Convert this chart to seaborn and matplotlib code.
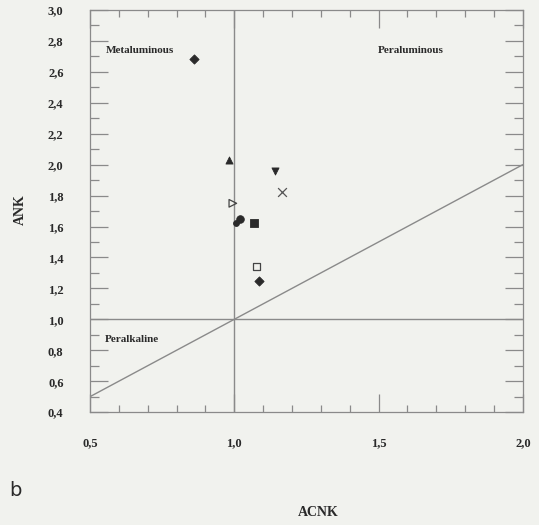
import matplotlib

matplotlib.use("Agg")

import matplotlib.pyplot as plt
import pandas as pd
import seaborn as sns
from matplotlib.ticker import MultipleLocator, FixedLocator

# sample points (ACNK, ANK)
samples = ["s1", "s2", "s3", "s4", "s5", "s6", "s7", "s8", "s9", "s10"]
acnk = [0.86, 0.98, 1.14, 1.165, 0.995, 1.02, 1.007, 1.068, 1.078, 1.085]
ank = [2.68, 2.03, 1.96, 1.82, 1.75, 1.65, 1.62, 1.62, 1.34, 1.25]
markers = ["D", "^", "v", "x", ">", "o", "o", "s", "s", "D"]
filled = [True, True, True, True, False, True, True, True, False, True]

x_ticks = [0.5, 1.0, 1.5, 2.0]
x_labels = ["0,5", "1,0", "1,5", "2,0"]
y_ticks = [0.4, 0.6, 0.8, 1.0, 1.2, 1.4, 1.6, 1.8, 2.0, 2.2, 2.4, 2.6, 2.8, 3.0]
y_labels = ["0,4", "0,6", "0,8", "1,0", "1,2", "1,4", "1,6", "1,8", "2,0",
            "2,2", "2,4", "2,6", "2,8", "3,0"]

df = pd.DataFrame({"sample": samples, "ACNK": acnk, "ANK": ank,
                   "marker": markers, "filled": filled})

sns.set_style("white")
plt.rcParams["font.family"] = ["Liberation Serif", "DejaVu Serif"]

bg = "#f1f2ee"
ink = "#2a2a2a"
line_c = "#8a8a8a"

fig = plt.figure(figsize=(5.39, 5.25), dpi=100, facecolor=bg)
ax = fig.add_axes([0.167, 0.215, 0.803, 0.766])
ax.set_facecolor(bg)

# reference lines
ax.axvline(1.0, color=line_c, lw=1.0, zorder=1)
ax.axhline(1.0, color=line_c, lw=1.0, zorder=1)
ax.plot([0.5, 2.0], [0.5, 2.0], color=line_c, lw=1.0, zorder=1)

size_map = {"D": 22, "^": 26, "v": 26, "x": 40, ">": 30, "o": 30, "s": 28}
for _, row in df.iterrows():
    sub = df[df["sample"] == row["sample"]]
    m = row["marker"]
    s = size_map[m]
    if row["sample"] == "s7":
        s = 18
    if m == "x":
        sns.scatterplot(data=sub, x="ACNK", y="ANK", marker=m, s=s,
                        color="#555555", linewidth=0.9, ax=ax, zorder=3)
    elif row["filled"]:
        sns.scatterplot(data=sub, x="ACNK", y="ANK", marker=m, s=s,
                        color=ink, edgecolor=ink, linewidth=0.6, ax=ax, zorder=3)
    else:
        sns.scatterplot(data=sub, x="ACNK", y="ANK", marker=m, s=s,
                        facecolor="none", edgecolor="#444444", linewidth=0.9,
                        ax=ax, zorder=3)

ax.set_xlim(0.5, 2.0)
ax.set_ylim(0.4, 3.0)

ax.xaxis.set_major_locator(FixedLocator(x_ticks))
ax.yaxis.set_major_locator(FixedLocator(y_ticks))
ax.xaxis.set_minor_locator(MultipleLocator(0.1))
ax.yaxis.set_minor_locator(MultipleLocator(0.1))
ax.set_xticklabels(x_labels, fontweight="bold", fontsize=9, color=ink)
ax.set_yticklabels(y_labels, fontweight="bold", fontsize=9, color=ink)

ax.tick_params(axis="both", which="both", direction="in", top=True,
               right=True, left=True, bottom=True, color=line_c, width=0.9)
ax.tick_params(axis="y", which="major", length=13, pad=19)
ax.tick_params(axis="y", which="minor", length=6.5)
ax.tick_params(axis="x", which="major", length=13, pad=18)
ax.tick_params(axis="x", which="minor", length=5)

for sp in ax.spines.values():
    sp.set_color(line_c)
    sp.set_linewidth(0.9)

ax.set_xlabel("")
ax.set_ylabel("")

ax.text(0.555, 2.735, "Metaluminous", fontsize=8, fontweight="bold",
        color=ink, va="center", ha="left")
ax.text(1.497, 2.735, "Peraluminous", fontsize=8, fontweight="bold",
        color=ink, va="center", ha="left")
ax.text(0.55, 0.872, "Peralkaline", fontsize=8, fontweight="bold",
        color=ink, va="center", ha="left")

fig.text(20 / 539, 1 - 210 / 525, "ANK", rotation=90, fontsize=10,
         fontweight="bold", color=ink, ha="center", va="center")
fig.text(318 / 539, 1 - 512 / 525, "ACNK", fontsize=10, fontweight="bold",
         color=ink, ha="center", va="center")
fig.text(15 / 539, 1 - 490 / 525, "b", fontsize=14, color=ink,
         family="DejaVu Sans", ha="center", va="center")

fig.savefig("out.png", dpi=100, facecolor=bg)
plt.close(fig)
